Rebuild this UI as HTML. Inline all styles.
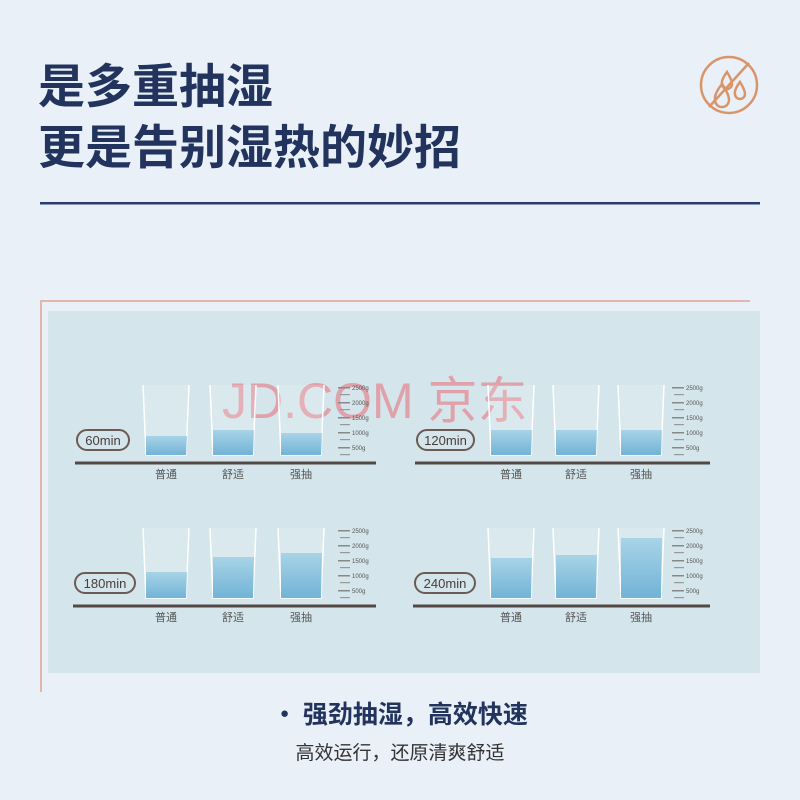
<!DOCTYPE html>
<html><head><meta charset="utf-8"><style>
body{margin:0;width:800px;height:800px;background:#e9f0f7;overflow:hidden;font-family:"Liberation Sans","Noto Sans CJK SC",sans-serif}
</style></head><body>
<svg width="800" height="800" xmlns="http://www.w3.org/2000/svg" style="position:absolute;left:0;top:0">
<defs>
<linearGradient id="w" x1="0" y1="0" x2="0" y2="1"><stop offset="0" stop-color="#9fd0e6"/><stop offset="1" stop-color="#5fa9d2"/></linearGradient>
</defs>
<text x="38" y="103" font-size="47" font-weight="bold" fill="#22335e" font-family="Noto Sans CJK SC,sans-serif">是多重抽湿</text>
<text x="38" y="164" font-size="47" font-weight="bold" fill="#22335e" font-family="Noto Sans CJK SC,sans-serif">更是告别湿热的妙招</text>
<g stroke="#d9956a" stroke-width="2.5" fill="none">
<circle cx="729" cy="85" r="28"/><line x1="709" y1="107" x2="749" y2="63"/>
<path d="M727 72 q-6 8 -5 12 a5 5 0 0 0 10 0 q0 -4 -5 -12z"/>
<path d="M740 82 q-6 8 -5 12 a5 5 0 0 0 10 0 q0 -4 -5 -12z"/>
<path d="M722 84 q-8 10 -7 16 a7 7 0 0 0 14 0 q0 -6 -7 -16z"/>
</g>
<rect x="40" y="202" width="720" height="2.5" fill="#2a3d6e"/>
<path d="M750 301 H41 V692" stroke="#e1b7ad" stroke-width="2" fill="none"/>
<rect x="48" y="311" width="712" height="362" fill="#d4e6ec"/>
<text x="222" y="418" font-size="50" fill="#e58c95" opacity="0.75">JD.COM 京东</text>
<g id="r"></g>
</svg>
<div style="position:absolute;left:0;top:695px;width:800px;text-align:center;font-size:25px;font-weight:bold;color:#22335e;font-family:'Noto Sans CJK SC',sans-serif">· 强劲抽湿，高效快速</div>
<div style="position:absolute;left:0;top:738px;width:800px;text-align:center;font-size:19px;color:#333;font-family:'Noto Sans CJK SC',sans-serif">高效运行，还原清爽舒适</div>
<script>
const g=document.getElementById('r');let s='';
function row(x0,base,pill,pw,lv,gx,rx){
 s+=`<rect x="${x0+2}" y="${base-33}" width="${pw}" height="20" rx="10" fill="none" stroke="#6b5a55" stroke-width="2"/>`;
 s+=`<text x="${x0+2+pw/2}" y="${base-18}" font-size="13" fill="#4a3c38" text-anchor="middle">${pill}</text>`;
 s+=`<rect x="${x0}" y="${base-1.5}" width="${rx+38-x0}" height="3" fill="#554844"/>`;
 const names=['普通','舒适','强抽'];
 gx.forEach((x,i)=>{const top=base-78,bot=base-8;
  s+=`<path d="M${x} ${top} L${x+3} ${bot} H${x+43} L${x+46} ${top}" fill="rgba(255,255,255,0.15)" stroke="#fff" stroke-width="1.5"/>`;
  s+=`<path d="M${x+3} ${lv[i]} H${x+44} L${x+43} ${bot} H${x+3}Z" fill="url(#w)" opacity="0.85"/>`;
  s+=`<text x="${x+23}" y="${base+15}" font-size="11" fill="#555" text-anchor="middle" font-family="Noto Sans CJK SC,sans-serif">${names[i]}</text>`;});
 ['2500g','2000g','1500g','1000g','500g'].forEach((t,i)=>{const y=base-76+i*15;
  s+=`<rect x="${rx}" y="${y}" width="12" height="1.5" fill="#888"/><rect x="${rx+2}" y="${y+7}" width="10" height="1.2" fill="#999"/>`;
  s+=`<text x="${rx+14}" y="${y+3}" font-size="6" fill="#555">${t}</text>`;});
}
row(75,463,'60min',52,[436,430,433],[143,210,278],338);
row(415,463,'120min',57,[430,430,430],[488,553,618],672);
row(73,606,'180min',60,[572,557,553],[143,210,278],338);
row(413,606,'240min',60,[558,555,538],[488,553,618],672);
g.outerHTML=s;
</script>
</body></html>
